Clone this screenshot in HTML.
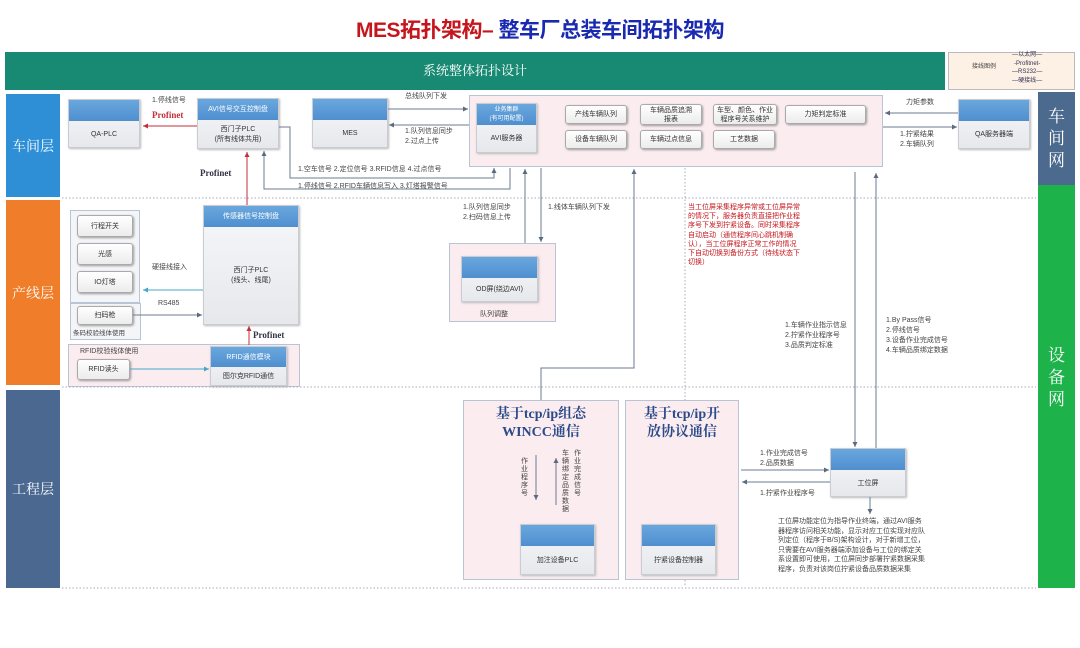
<!DOCTYPE html>
<html><head><meta charset="utf-8">
<style>
*{margin:0;padding:0;box-sizing:border-box}
body{width:1080px;height:648px;background:#fff;position:relative;overflow:hidden;font-family:"Liberation Sans","Noto Sans CJK SC",sans-serif;color:#333}
.a{position:absolute}
.t{position:absolute;font-size:7px;line-height:10px;color:#444;white-space:nowrap}
.box{position:absolute;border:1px solid #c9cdd3;background:linear-gradient(#f6f7f9,#e6e8ec);box-shadow:1px 1px 2px #bbb}
.box .h{height:21px;background:linear-gradient(#6aa7de,#4f8fcf);color:#fff;font-size:7px;text-align:center;line-height:9px;display:flex;align-items:center;justify-content:center}
.box .b{font-size:7px;text-align:center;line-height:10px;display:flex;align-items:center;justify-content:center;color:#333}
.btn{position:absolute;border:1px solid #aaa;border-radius:3px;background:linear-gradient(#fff,#ececec);box-shadow:1px 1px 2px #999;font-size:7px;line-height:9px;text-align:center;display:flex;align-items:center;justify-content:center;color:#333}
.pink{position:absolute;background:#fbecef;border:1px solid #b9c4d4}
.lay{position:absolute;color:#fff;font-family:"Liberation Serif","Noto Serif CJK SC",serif;font-size:14px;display:flex;align-items:center;justify-content:center}
.serif{font-family:"Liberation Serif","Noto Serif CJK SC",serif}
</style></head><body>

<div class="a" style="left:0;top:14px;width:1080px;text-align:center;font-size:21px;font-weight:bold;letter-spacing:-0.5px"><span style="color:#c4161c">MES拓扑架构–</span> <span style="color:#1a2ab0">整车厂总装车间拓扑架构</span></div>

<div class="a" style="left:5px;top:52px;width:940px;height:38px;background:#188a73;color:#fff;font-size:13px;text-align:center;line-height:38px"><span class="serif">系统整体拓扑设计</span></div>
<div class="a" style="left:948px;top:52px;width:127px;height:38px;background:#fdf0e4;border:1px solid #bbb"></div>
<div class="t" style="left:972px;top:62px;font-size:6px">接线图例</div>
<div class="t" style="left:1012px;top:51px;font-size:6px;line-height:8.5px;text-align:center;color:#335">—以太网—<br>-Profitnet-<br>—RS232—<br>—硬接线—</div>

<div class="lay" style="left:6px;top:94px;width:54px;height:103px;background:#2e8fd6">车间层</div>
<div class="lay" style="left:6px;top:200px;width:54px;height:185px;background:#ef7d2a">产线层</div>
<div class="lay" style="left:6px;top:390px;width:54px;height:198px;background:#4b6990">工程层</div>
<div class="lay" style="left:1038px;top:92px;width:37px;height:93px;background:#4c6a8e;font-size:17px;line-height:22px;text-align:center">车<br>间<br>网</div>
<div class="lay" style="left:1038px;top:185px;width:37px;height:403px;background:#1db34a;font-size:17px;line-height:22px;text-align:center;align-items:flex-start;padding-top:160px">设<br>备<br>网</div>

<!-- 车间层 -->
<div class="box" style="left:68px;top:99px;width:72px;height:49px"><div class="h"></div><div class="b" style="height:27px">QA-PLC</div></div>
<div class="box" style="left:197px;top:98px;width:82px;height:51px"><div class="h">AVI信号交互控制盘</div><div class="b" style="height:29px">西门子PLC<br>(所有线体共用)</div></div>
<div class="box" style="left:312px;top:98px;width:76px;height:50px"><div class="h"></div><div class="b" style="height:28px">MES</div></div>
<div class="t" style="left:152px;top:96px">1.停线信号</div>
<div class="t serif" style="left:152px;top:110px;font-size:9px;font-weight:bold;color:#c0303a">Profinet</div>
<div class="t serif" style="left:200px;top:168px;font-size:9px;font-weight:bold;color:#334">Profinet</div>
<div class="t" style="left:405px;top:92px">总线队列下发</div>
<div class="t" style="left:405px;top:127px">1.队列信息同步<br>2.过点上传</div>
<div class="t" style="left:298px;top:165px">1.空车信号 2.定位信号 3.RFID信息 4.过点信号</div>
<div class="t" style="left:298px;top:182px">1.停线信号 2.RFID车辆信息写入 3.灯塔报警信号</div>

<div class="pink" style="left:469px;top:95px;width:414px;height:72px"></div>
<div class="box" style="left:476px;top:103px;width:61px;height:50px"><div class="h" style="font-size:6px">业务集群<br>(有可用配置)</div><div class="b" style="height:28px">AVI服务器</div></div>
<div class="btn" style="left:565px;top:105px;width:62px;height:19px">产线车辆队列</div>
<div class="btn" style="left:565px;top:130px;width:62px;height:19px">设备车辆队列</div>
<div class="btn" style="left:640px;top:104px;width:62px;height:21px">车辆品质追溯<br>报表</div>
<div class="btn" style="left:640px;top:130px;width:62px;height:19px">车辆过点信息</div>
<div class="btn" style="left:713px;top:104px;width:64px;height:21px">车型、颜色、作业<br>程序号关系维护</div>
<div class="btn" style="left:713px;top:130px;width:62px;height:19px">工艺数据</div>
<div class="btn" style="left:785px;top:105px;width:81px;height:19px">力矩判定标准</div>
<div class="box" style="left:958px;top:99px;width:72px;height:50px"><div class="h"></div><div class="b" style="height:28px">QA服务器端</div></div>
<div class="t" style="left:906px;top:98px">力矩参数</div>
<div class="t" style="left:900px;top:130px">1.拧紧结果<br>2.车辆队列</div>

<!-- 产线层 -->
<div class="a" style="left:70px;top:210px;width:70px;height:93px;border:1px solid #b9c4d4;background:#f4f5f8"></div>
<div class="btn" style="left:77px;top:215px;width:56px;height:22px">行程开关</div>
<div class="btn" style="left:77px;top:243px;width:56px;height:22px">光感</div>
<div class="btn" style="left:77px;top:271px;width:56px;height:22px">IO灯塔</div>
<div class="a" style="left:70px;top:303px;width:71px;height:37px;border:1px solid #b9c4d4;background:#f4f5f8"></div>
<div class="btn" style="left:77px;top:306px;width:56px;height:19px">扫码枪</div>
<div class="t" style="left:73px;top:329px;font-size:6.5px">条码校验线体使用</div>
<div class="box" style="left:203px;top:205px;width:96px;height:120px"><div class="h">传感器信号控制盘</div><div class="b" style="height:98px">西门子PLC<br>(线头、线尾)</div></div>
<div class="t" style="left:152px;top:263px">硬接线接入</div>
<div class="t" style="left:158px;top:299px">RS485</div>
<div class="t serif" style="left:253px;top:330px;font-size:9px;font-weight:bold;color:#334">Profinet</div>
<div class="pink" style="left:68px;top:344px;width:232px;height:43px"></div>
<div class="t" style="left:80px;top:347px">RFID校验线体使用</div>
<div class="btn" style="left:77px;top:359px;width:53px;height:21px">RFID读头</div>
<div class="box" style="left:210px;top:346px;width:77px;height:40px"><div class="h" style="height:20px">RFID通信模块</div><div class="b" style="height:19px">图尔克RFID通信</div></div>

<div class="pink" style="left:449px;top:243px;width:107px;height:79px"></div>
<div class="box" style="left:461px;top:256px;width:77px;height:46px"><div class="h"></div><div class="b" style="height:24px">OD屏(绕边AVI)</div></div>
<div class="t" style="left:480px;top:310px">队列调整</div>
<div class="t" style="left:463px;top:203px">1.队列信息同步<br>2.扫码信息上传</div>
<div class="t" style="left:548px;top:203px">1.线体车辆队列下发</div>
<div class="t" style="left:688px;top:203px;color:#c4161c;font-size:7px;line-height:9.2px;white-space:normal;width:112px">当工位屏采集程序异常或工位屏异常的情况下，服务器负责直接把作业程序号下发到拧紧设备。同时采集程序自动启动（通信程序间心跳机制确认），当工位屏程序正常工作的情况下自动切换到备份方式（待线状态下切换）</div>
<div class="t" style="left:785px;top:321px">1.车辆作业指示信息<br>2.拧紧作业程序号<br>3.品质判定标准</div>
<div class="t" style="left:886px;top:316px">1.By Pass信号<br>2.停线信号<br>3.设备作业完成信号<br>4.车辆品质绑定数据</div>

<!-- 工程层 -->
<div class="pink" style="left:463px;top:400px;width:156px;height:180px"></div>
<div class="t serif" style="left:463px;top:406px;width:156px;text-align:center;font-size:14px;line-height:18px;font-weight:bold;color:#2a4a8a">基于tcp/ip组态<br>WINCC通信</div>
<div class="t" style="left:521px;top:458px;width:8px;white-space:normal;line-height:8px">作业程序号</div>
<div class="t" style="left:562px;top:450px;width:8px;white-space:normal;line-height:8px">车辆绑定品质数据</div>
<div class="t" style="left:574px;top:450px;width:8px;white-space:normal;line-height:8px">作业完成信号</div>
<div class="box" style="left:520px;top:524px;width:75px;height:51px"><div class="h"></div><div class="b" style="height:29px">加注设备PLC</div></div>
<div class="pink" style="left:625px;top:400px;width:114px;height:180px"></div>
<div class="t serif" style="left:625px;top:406px;width:114px;text-align:center;font-size:14px;line-height:18px;font-weight:bold;color:#2a4a8a">基于tcp/ip开<br>放协议通信</div>
<div class="box" style="left:641px;top:524px;width:75px;height:51px"><div class="h"></div><div class="b" style="height:29px">拧紧设备控制器</div></div>
<div class="box" style="left:830px;top:448px;width:76px;height:49px"><div class="h"></div><div class="b" style="height:27px">工位屏</div></div>
<div class="t" style="left:760px;top:449px">1.作业完成信号<br>2.品质数据</div>
<div class="t" style="left:760px;top:489px">1.拧紧作业程序号</div>
<div class="t" style="left:778px;top:517px;white-space:normal;width:150px;line-height:9.5px">工位屏功能定位为指导作业终端，通过AVI服务器程序访问相关功能，显示对应工位实现对应队列定位（程序于B/S)架构设计，对于新增工位，只需要在AVI服务器端添加设备与工位的绑定关系设置即可使用，工位屏同步部署拧紧数据采集程序，负责对该岗位拧紧设备品质数据采集</div>

<svg class="a" style="left:0;top:0;pointer-events:none" width="1080" height="648">
<defs>
<marker id="ar" markerWidth="6" markerHeight="6" refX="5" refY="3" orient="auto"><path d="M0,0.5 L5,3 L0,5.5z" fill="#5a6b80"/></marker>
<marker id="rr" markerWidth="6" markerHeight="6" refX="5" refY="3" orient="auto"><path d="M0,0.5 L5,3 L0,5.5z" fill="#c0303a"/></marker>
<marker id="cr" markerWidth="6" markerHeight="6" refX="5" refY="3" orient="auto"><path d="M0,0.5 L5,3 L0,5.5z" fill="#46a8c8"/></marker>
</defs>
<g stroke="#aab" stroke-dasharray="1.5,2" stroke-width="1">
<line x1="62" y1="198" x2="1036" y2="198"/><line x1="62" y1="387" x2="1036" y2="387"/><line x1="62" y1="588" x2="1036" y2="588"/>
<line x1="685" y1="168" x2="685" y2="400"/><line x1="685" y1="580" x2="685" y2="586"/>
</g>
<g fill="none" stroke="#6b7b90" stroke-width="1">
<line x1="388" y1="109" x2="468" y2="109" marker-end="url(#ar)"/>
<line x1="469" y1="125" x2="389" y2="125" marker-end="url(#ar)"/>
<polyline points="279,127 290,127 290,178 494,178 494,168" marker-end="url(#ar)"/>
<polyline points="510,168 510,189 264,189 264,151" marker-end="url(#ar)"/>
<line x1="958" y1="113" x2="885" y2="113" marker-end="url(#ar)"/>
<line x1="883" y1="127" x2="957" y2="127" marker-end="url(#ar)"/>
<line x1="525" y1="243" x2="525" y2="169" marker-end="url(#ar)"/>
<line x1="541" y1="168" x2="541" y2="242" marker-end="url(#ar)"/>
<polyline points="541,400 541,368 634,368 634,169" marker-end="url(#ar)"/>
<line x1="855" y1="172" x2="855" y2="447" marker-end="url(#ar)"/>
<line x1="876" y1="448" x2="876" y2="173" marker-end="url(#ar)"/>
<line x1="741" y1="470" x2="829" y2="470" marker-end="url(#ar)"/>
<line x1="830" y1="482" x2="742" y2="482" marker-end="url(#ar)"/>
<line x1="870" y1="497" x2="870" y2="514" marker-end="url(#ar)"/>
<line x1="536" y1="455" x2="536" y2="500" marker-end="url(#ar)"/>
<line x1="556" y1="505" x2="556" y2="458" marker-end="url(#ar)"/>
<line x1="133" y1="315" x2="202" y2="315" marker-end="url(#ar)"/>
</g>
<line x1="130" y1="369" x2="209" y2="369" stroke="#46a8c8" marker-end="url(#cr)"/>
<line x1="203" y1="290" x2="143" y2="290" stroke="#46a8c8" marker-end="url(#cr)"/>
<line x1="197" y1="126" x2="143" y2="126" stroke="#c0303a" marker-end="url(#rr)"/>
<line x1="247" y1="205" x2="247" y2="152" stroke="#c0303a" marker-end="url(#rr)"/>
<line x1="249" y1="345" x2="249" y2="326" stroke="#c0303a" marker-end="url(#rr)"/>
</svg>

</body></html>
